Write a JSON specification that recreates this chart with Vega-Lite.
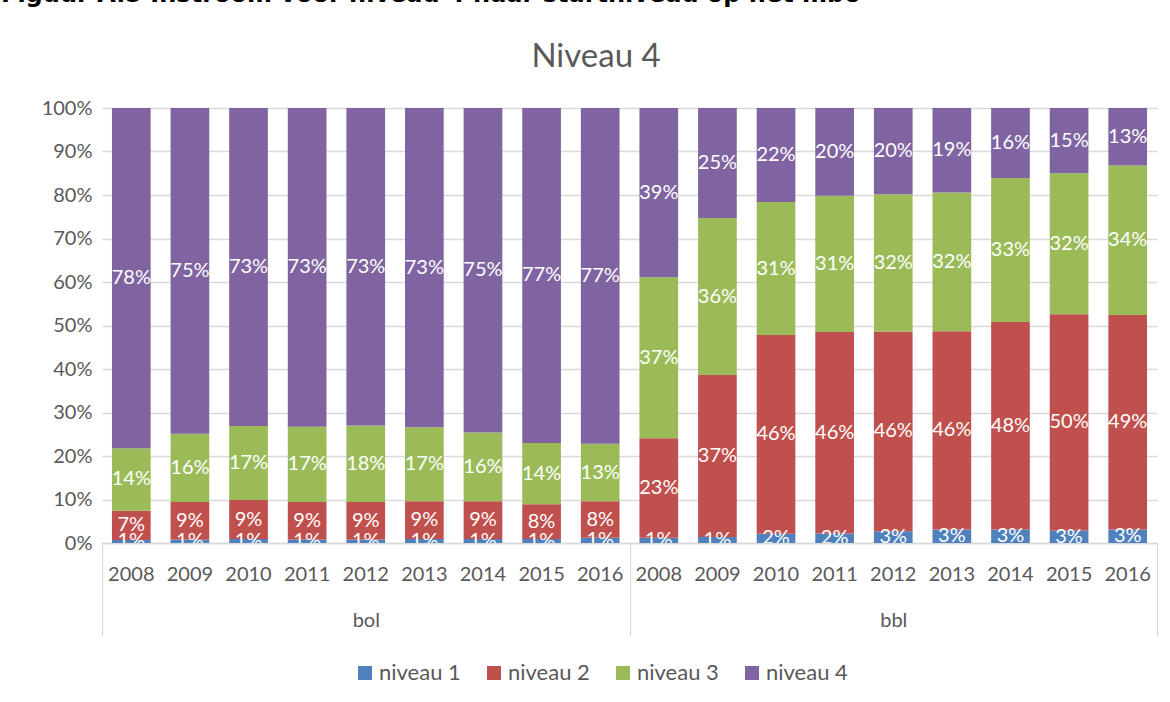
{
  "$schema": "https://vega.github.io/schema/vega-lite/v6.json",
  "width": 1055,
  "height": 435,
  "autosize": {"type": "none"},
  "padding": {"left": 102, "top": 108, "right": 13, "bottom": 159},
  "background": "white",
  "config": {"font": "Lato", "view": {"stroke": null}},
  "title": {
    "text": "Figuur A.5 Instroom voor niveau 4 naar startniveau op het mbo",
    "anchor": "start",
    "frame": "group",
    "font": "DejaVu Sans",
    "fontSize": 24,
    "fontWeight": "bold",
    "color": "#000000",
    "baseline": "alphabetic",
    "offset": 35,
    "dx": -101,
    "dy": 21
  },
  "data": {
    "values": [
      {"group": "bol", "year": "2008", "key": "bol-2008", "level": "niveau 1", "value": 0.007},
      {"group": "bol", "year": "2008", "key": "bol-2008", "level": "niveau 2", "value": 0.067},
      {"group": "bol", "year": "2008", "key": "bol-2008", "level": "niveau 3", "value": 0.144},
      {"group": "bol", "year": "2008", "key": "bol-2008", "level": "niveau 4", "value": 0.782},
      {"group": "bol", "year": "2009", "key": "bol-2009", "level": "niveau 1", "value": 0.008},
      {"group": "bol", "year": "2009", "key": "bol-2009", "level": "niveau 2", "value": 0.086},
      {"group": "bol", "year": "2009", "key": "bol-2009", "level": "niveau 3", "value": 0.157},
      {"group": "bol", "year": "2009", "key": "bol-2009", "level": "niveau 4", "value": 0.749},
      {"group": "bol", "year": "2010", "key": "bol-2010", "level": "niveau 1", "value": 0.009},
      {"group": "bol", "year": "2010", "key": "bol-2010", "level": "niveau 2", "value": 0.090},
      {"group": "bol", "year": "2010", "key": "bol-2010", "level": "niveau 3", "value": 0.170},
      {"group": "bol", "year": "2010", "key": "bol-2010", "level": "niveau 4", "value": 0.731},
      {"group": "bol", "year": "2011", "key": "bol-2011", "level": "niveau 1", "value": 0.008},
      {"group": "bol", "year": "2011", "key": "bol-2011", "level": "niveau 2", "value": 0.086},
      {"group": "bol", "year": "2011", "key": "bol-2011", "level": "niveau 3", "value": 0.173},
      {"group": "bol", "year": "2011", "key": "bol-2011", "level": "niveau 4", "value": 0.733},
      {"group": "bol", "year": "2012", "key": "bol-2012", "level": "niveau 1", "value": 0.008},
      {"group": "bol", "year": "2012", "key": "bol-2012", "level": "niveau 2", "value": 0.086},
      {"group": "bol", "year": "2012", "key": "bol-2012", "level": "niveau 3", "value": 0.176},
      {"group": "bol", "year": "2012", "key": "bol-2012", "level": "niveau 4", "value": 0.730},
      {"group": "bol", "year": "2013", "key": "bol-2013", "level": "niveau 1", "value": 0.009},
      {"group": "bol", "year": "2013", "key": "bol-2013", "level": "niveau 2", "value": 0.087},
      {"group": "bol", "year": "2013", "key": "bol-2013", "level": "niveau 3", "value": 0.170},
      {"group": "bol", "year": "2013", "key": "bol-2013", "level": "niveau 4", "value": 0.734},
      {"group": "bol", "year": "2014", "key": "bol-2014", "level": "niveau 1", "value": 0.009},
      {"group": "bol", "year": "2014", "key": "bol-2014", "level": "niveau 2", "value": 0.087},
      {"group": "bol", "year": "2014", "key": "bol-2014", "level": "niveau 3", "value": 0.158},
      {"group": "bol", "year": "2014", "key": "bol-2014", "level": "niveau 4", "value": 0.746},
      {"group": "bol", "year": "2015", "key": "bol-2015", "level": "niveau 1", "value": 0.009},
      {"group": "bol", "year": "2015", "key": "bol-2015", "level": "niveau 2", "value": 0.080},
      {"group": "bol", "year": "2015", "key": "bol-2015", "level": "niveau 3", "value": 0.141},
      {"group": "bol", "year": "2015", "key": "bol-2015", "level": "niveau 4", "value": 0.770},
      {"group": "bol", "year": "2016", "key": "bol-2016", "level": "niveau 1", "value": 0.012},
      {"group": "bol", "year": "2016", "key": "bol-2016", "level": "niveau 2", "value": 0.084},
      {"group": "bol", "year": "2016", "key": "bol-2016", "level": "niveau 3", "value": 0.132},
      {"group": "bol", "year": "2016", "key": "bol-2016", "level": "niveau 4", "value": 0.772},
      {"group": "bbl", "year": "2008", "key": "bbl-2008", "level": "niveau 1", "value": 0.012},
      {"group": "bbl", "year": "2008", "key": "bbl-2008", "level": "niveau 2", "value": 0.229},
      {"group": "bbl", "year": "2008", "key": "bbl-2008", "level": "niveau 3", "value": 0.370},
      {"group": "bbl", "year": "2008", "key": "bbl-2008", "level": "niveau 4", "value": 0.389},
      {"group": "bbl", "year": "2009", "key": "bbl-2009", "level": "niveau 1", "value": 0.014},
      {"group": "bbl", "year": "2009", "key": "bbl-2009", "level": "niveau 2", "value": 0.372},
      {"group": "bbl", "year": "2009", "key": "bbl-2009", "level": "niveau 3", "value": 0.361},
      {"group": "bbl", "year": "2009", "key": "bbl-2009", "level": "niveau 4", "value": 0.253},
      {"group": "bbl", "year": "2010", "key": "bbl-2010", "level": "niveau 1", "value": 0.021},
      {"group": "bbl", "year": "2010", "key": "bbl-2010", "level": "niveau 2", "value": 0.457},
      {"group": "bbl", "year": "2010", "key": "bbl-2010", "level": "niveau 3", "value": 0.306},
      {"group": "bbl", "year": "2010", "key": "bbl-2010", "level": "niveau 4", "value": 0.216},
      {"group": "bbl", "year": "2011", "key": "bbl-2011", "level": "niveau 1", "value": 0.022},
      {"group": "bbl", "year": "2011", "key": "bbl-2011", "level": "niveau 2", "value": 0.463},
      {"group": "bbl", "year": "2011", "key": "bbl-2011", "level": "niveau 3", "value": 0.313},
      {"group": "bbl", "year": "2011", "key": "bbl-2011", "level": "niveau 4", "value": 0.202},
      {"group": "bbl", "year": "2012", "key": "bbl-2012", "level": "niveau 1", "value": 0.027},
      {"group": "bbl", "year": "2012", "key": "bbl-2012", "level": "niveau 2", "value": 0.459},
      {"group": "bbl", "year": "2012", "key": "bbl-2012", "level": "niveau 3", "value": 0.316},
      {"group": "bbl", "year": "2012", "key": "bbl-2012", "level": "niveau 4", "value": 0.198},
      {"group": "bbl", "year": "2013", "key": "bbl-2013", "level": "niveau 1", "value": 0.031},
      {"group": "bbl", "year": "2013", "key": "bbl-2013", "level": "niveau 2", "value": 0.456},
      {"group": "bbl", "year": "2013", "key": "bbl-2013", "level": "niveau 3", "value": 0.319},
      {"group": "bbl", "year": "2013", "key": "bbl-2013", "level": "niveau 4", "value": 0.194},
      {"group": "bbl", "year": "2014", "key": "bbl-2014", "level": "niveau 1", "value": 0.031},
      {"group": "bbl", "year": "2014", "key": "bbl-2014", "level": "niveau 2", "value": 0.477},
      {"group": "bbl", "year": "2014", "key": "bbl-2014", "level": "niveau 3", "value": 0.331},
      {"group": "bbl", "year": "2014", "key": "bbl-2014", "level": "niveau 4", "value": 0.161},
      {"group": "bbl", "year": "2015", "key": "bbl-2015", "level": "niveau 1", "value": 0.029},
      {"group": "bbl", "year": "2015", "key": "bbl-2015", "level": "niveau 2", "value": 0.497},
      {"group": "bbl", "year": "2015", "key": "bbl-2015", "level": "niveau 3", "value": 0.324},
      {"group": "bbl", "year": "2015", "key": "bbl-2015", "level": "niveau 4", "value": 0.150},
      {"group": "bbl", "year": "2016", "key": "bbl-2016", "level": "niveau 1", "value": 0.031},
      {"group": "bbl", "year": "2016", "key": "bbl-2016", "level": "niveau 2", "value": 0.493},
      {"group": "bbl", "year": "2016", "key": "bbl-2016", "level": "niveau 3", "value": 0.344},
      {"group": "bbl", "year": "2016", "key": "bbl-2016", "level": "niveau 4", "value": 0.132}
    ]
  },
  "layer": [
    {
      "layer": [
        {
          "mark": {"type": "bar"},
          "encoding": {
            "x": {
              "field": "key",
              "type": "nominal",
              "title": null,
              "scale": {
                "domain": ["bol-2008", "bol-2009", "bol-2010", "bol-2011", "bol-2012", "bol-2013", "bol-2014", "bol-2015", "bol-2016", "bbl-2008", "bbl-2009", "bbl-2010", "bbl-2011", "bbl-2012", "bbl-2013", "bbl-2014", "bbl-2015", "bbl-2016"],
                "paddingInner": 0.34,
                "paddingOuter": 0.17
              },
              "axis": {
                "orient": "bottom",
                "labelExpr": "split(datum.label, '-')[1]",
                "ticks": false,
                "grid": false,
                "labelPadding": 21,
                "labelFontSize": 20,
                "labelFont": "Lato",
                "labelColor": "#595959",
                "labelAngle": 0,
                "domainColor": "#D9D9D9",
                "domainWidth": 1.3
              }
            },
            "y": {
              "field": "value",
              "type": "quantitative",
              "stack": "zero",
              "title": "Niveau 4",
              "scale": {"domain": [0, 1], "nice": false},
              "axis": {
                "values": [0, 0.1, 0.2, 0.3, 0.4, 0.5, 0.6, 0.7, 0.8, 0.9, 1],
                "format": ".0%",
                "domain": false,
                "ticks": false,
                "grid": true,
                "gridColor": "#D9D9D9",
                "gridWidth": 1.3,
                "labelPadding": 10,
                "labelFontSize": 20,
                "labelFont": "Lato",
                "labelColor": "#595959",
                "titleAngle": 0,
                "titleX": 493.5,
                "titleY": -42,
                "titleAlign": "center",
                "titleBaseline": "alphabetic",
                "titleFont": "Lato",
                "titleFontSize": 33,
                "titleFontWeight": "normal",
                "titleColor": "#595959"
              }
            },
            "order": {"field": "level", "sort": "ascending"},
            "color": {
              "field": "level",
              "type": "nominal",
              "scale": {
                "domain": ["niveau 1", "niveau 2", "niveau 3", "niveau 4"],
                "range": ["#4F81BD", "#C0504D", "#9BBB59", "#8064A2"]
              },
              "legend": {
                "title": null,
                "orient": "none",
                "direction": "horizontal",
                "legendX": 252,
                "legendY": 554,
                "padding": 0,
                "symbolType": "square",
                "symbolSize": 196,
                "symbolStrokeWidth": 0,
                "labelFontSize": 22,
                "labelFont": "Lato",
                "labelColor": "#595959",
                "labelOffset": 3,
                "columnPadding": 22
              }
            }
          }
        },
        {
          "mark": {"type": "text", "color": "white", "fontSize": 20, "font": "Lato", "clip": true, "baseline": "middle"},
          "encoding": {
            "x": {"field": "key", "type": "nominal", "title": null},
            "y": {"field": "value", "type": "quantitative", "stack": "zero", "bandPosition": 0.5, "title": "Niveau 4"},
            "detail": {"field": "level"},
            "order": {"field": "level", "sort": "ascending"},
            "text": {"field": "value", "format": ".0%"}
          }
        }
      ]
    },
    {
      "mark": {"type": "rect", "opacity": 0},
      "encoding": {
        "x": {
          "field": "group",
          "type": "nominal",
          "title": null,
          "scale": {"domain": ["bol", "bbl"], "paddingInner": 0, "paddingOuter": 0},
          "axis": {
            "orient": "bottom",
            "ticks": true,
            "tickBand": "extent",
            "tickSize": 93,
            "tickColor": "#D9D9D9",
            "tickWidth": 1.3,
            "domain": false,
            "grid": false,
            "labelPadding": -26,
            "labelFontSize": 20,
            "labelFont": "Lato",
            "labelColor": "#595959",
            "labelAngle": 0
          }
        }
      }
    }
  ],
  "resolve": {"scale": {"x": "independent"}}
}
